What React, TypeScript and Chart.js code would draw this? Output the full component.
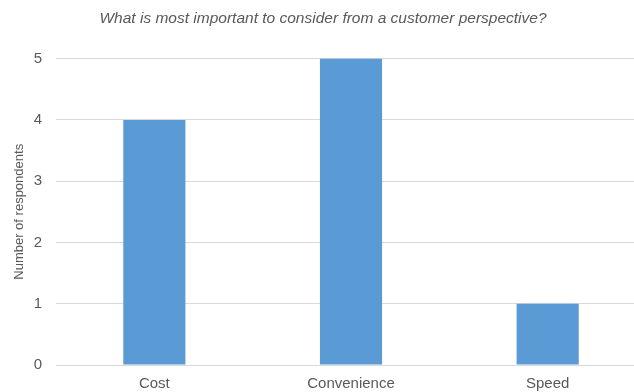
import React, { useEffect, useRef } from "react";
import { Chart, registerables } from "chart.js";

Chart.register(...registerables);

const categories = ["Cost", "Convenience", "Speed"];
const respondents = [4, 5, 1];
const titleText = "What is most important to consider from a customer perspective?";
const yTitle = "Number of respondents";

export default function App() {
  const ref = useRef<HTMLCanvasElement | null>(null);
  useEffect(() => {
    if (!ref.current) return;
    const font = "'Liberation Sans', Arial, sans-serif";
    const chart = new Chart(ref.current, {
      type: "bar",
      data: {
        labels: categories,
        datasets: [
          {
            data: respondents,
            backgroundColor: "#5b9bd5",
            borderWidth: 0,
            barPercentage: 1,
            categoryPercentage: 0.316,
          },
        ],
      },
      options: {
        animation: false,
        responsive: false,
        maintainAspectRatio: false,
        layout: { padding: { left: 0, right: 0, top: 0, bottom: 0 } },
        plugins: {
          legend: { display: false },
          tooltip: { enabled: false },
          title: {
            display: true,
            text: titleText,
            color: "#595959",
            font: { family: font, size: 15.5, style: "italic", weight: "normal" },
            padding: { top: 9, bottom: 31 },
          },
        },
        scales: {
          x: {
            afterFit: (scale: any) => {
              scale.height = 27;
            },
            grid: { display: false, tickLength: 0, drawTicks: false },
            border: { display: false },
            ticks: {
              color: "#595959",
              font: { family: font, size: 15 },
              padding: 10,
            },
          },
          y: {
            min: 0,
            max: 5,
            afterFit: (scale: any) => {
              scale.width = 56;
            },
            grid: { color: "#d9d9d9", lineWidth: 1, drawTicks: false },
            border: { display: false },
            ticks: {
              stepSize: 1,
              color: "#595959",
              font: { family: font, size: 15 },
              padding: 14,
            },
            title: {
              display: true,
              text: yTitle,
              color: "#595959",
              font: { family: font, size: 13 },
              padding: { top: 12, bottom: 4 },
            },
          },
        },
      },
    });
    return () => chart.destroy();
  }, []);
  return (
    <div style={{ position: "fixed", left: 0, top: 0, width: 646, height: 392 }}>
      <canvas ref={ref} width={646} height={392} />
    </div>
  );
}
